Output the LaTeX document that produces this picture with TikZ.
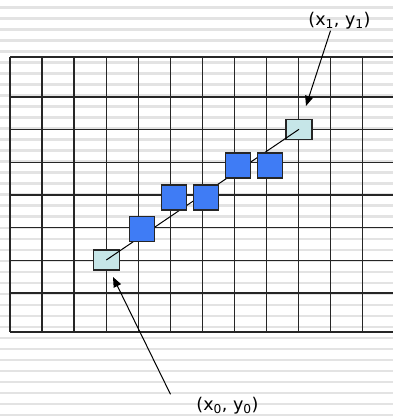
\documentclass[tikz,border=0pt]{standalone}
\usepackage{fontspec}
\setmainfont{DejaVu Sans}
\usepackage{xcolor}
\usepackage{tikz}
\usetikzlibrary{arrows.meta,positioning}
\definecolor{stripegray}{HTML}{E3E3E3}
\definecolor{pixblue}{HTML}{3F7CF5}
\definecolor{endcyan}{HTML}{C6E6E8}

\begin{document}
\begin{tikzpicture}[
  x=1pt,y=-1pt,
  stripe/.style={draw=stripegray,line width=2.4pt},
  gridline/.style={draw=black!85,line width=1.3pt},
  pix/.style={draw=black!85,line width=1.2pt,fill=pixblue,minimum width=25pt,minimum height=25pt,inner sep=0pt},
  endpix/.style={draw=black!85,line width=1.2pt,fill=endcyan,minimum width=26pt,minimum height=20pt,inner sep=0pt},
  lbl/.style={font=\fontsize{17.5}{20}\selectfont,inner sep=0pt},
  arr/.style={-{Triangle[length=10pt,width=8pt]},line width=1pt}
]
\useasboundingbox (0,0) rectangle (393,416);
\fill[white] (0,0) rectangle (393,416);
% background stripes
\foreach \k in {0,...,37}
  \draw[stripe] (0,{7.3+11.02*\k}) -- (393,{7.3+11.02*\k});
% raster grid
\foreach \y in {57,97,129.7,162.3,195,227.7,260.3,293,332}
  \draw[gridline] (10,\y) -- (400,\y);
\foreach \i in {0,...,11}
  \draw[gridline] ({10+32.05*\i},57) -- ({10+32.05*\i},332);
% end points and ideal line
\node[endpix] (p0) at (106.3,260) {};
\node[endpix] (p1) at (299,129.3) {};
\draw[line width=1pt] (p0.center) -- (p1.center);
% chosen pixels
\node[pix] (q1) at (142.3,229.3) {};
\node[pix] (q2) at (174.3,197.5) {};
\node[pix] (q3) at (206.3,197.5) {};
\node[pix] (q4) at (238.3,165.5) {};
\node[pix] (q5) at (270.3,165.5) {};
% labels
\node[lbl] (l1) at (339.5,21) {(x\textsubscript{1}, y\textsubscript{1})};
\node[lbl] (l0) at (227.5,406) {(x\textsubscript{0}, y\textsubscript{0})};
\coordinate (t1) at (306,106);
\coordinate (t0) at (113,277);
\draw[arr] ([xshift=-9pt,yshift=-1pt]l1.south) -- (t1);
\draw[arr] ([xshift=-57pt,yshift=3pt]l0.north) -- (t0);
\end{tikzpicture}
\end{document}
